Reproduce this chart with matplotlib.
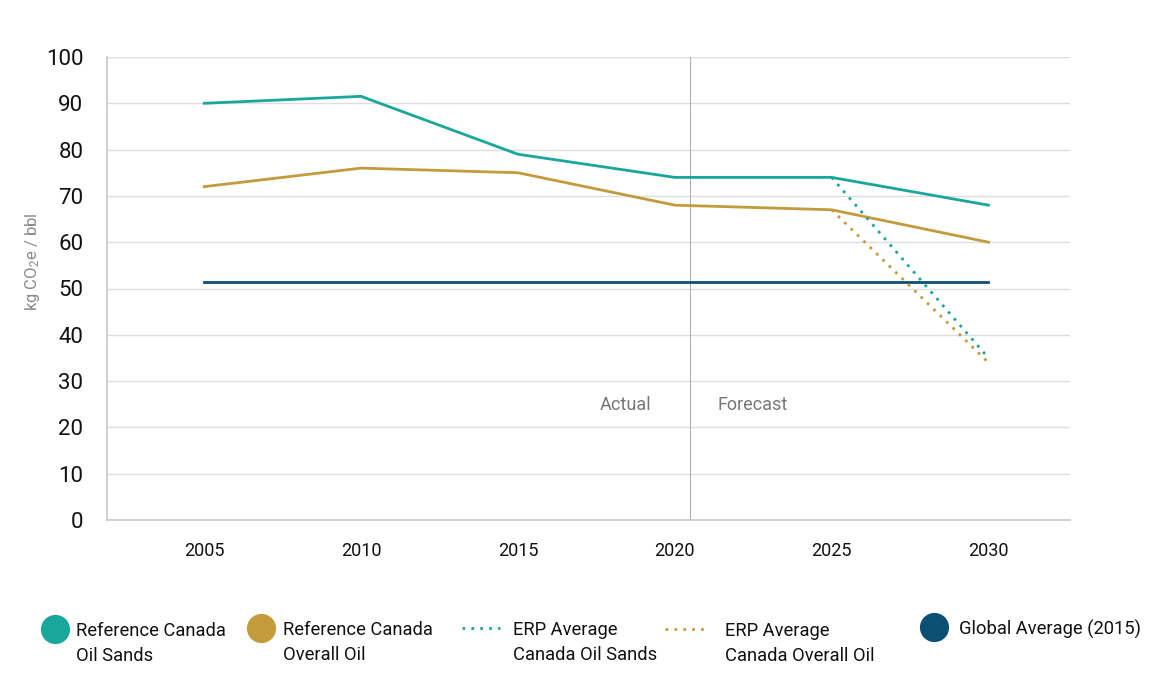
import matplotlib
matplotlib.use("Agg")
import matplotlib.pyplot as plt
from matplotlib.lines import Line2D

plt.rcParams['font.family'] = ['Roboto', 'DejaVu Sans']
plt.rcParams['mathtext.default'] = 'regular'

years = [2005, 2010, 2015, 2020, 2025, 2030]
oil_sands = [90, 91.5, 79, 74, 74, 68]
overall_oil = [72, 76, 75, 68, 67, 60]
erp_years = [2025, 2030]
erp_oil_sands = [74, 35]
erp_overall_oil = [67, 34]
global_years = [2005, 2030]
global_avg = [51.5, 51.5]
yticks = [0, 10, 20, 30, 40, 50, 60, 70, 80, 90, 100]

TEAL = '#19a79b'
GOLD = '#c49b3c'
NAVY = '#0c4f74'

fig = plt.figure(figsize=(11.6, 6.88), dpi=100)
W, H = 1160, 688
ax = fig.add_axes([107 / W, 1 - 520 / H, (1070 - 107) / W, (520 - 57) / H])

ax.plot(years, oil_sands, color=TEAL, lw=2, zorder=4)
ax.plot(years, overall_oil, color=GOLD, lw=2, zorder=4)
ax.plot(global_years, global_avg, color=NAVY, lw=2, zorder=3)
ax.plot(erp_years, erp_oil_sands, color=TEAL, lw=2, ls=(0, (1, 2.2)), zorder=5)
ax.plot(erp_years, erp_overall_oil, color=GOLD, lw=2, ls=(0, (1, 2.2)), zorder=5)

ax.axvline(2020.5, color='#b0b0b0', lw=0.8, zorder=2)
ax.text(2018.42, 24.8, 'Actual', ha='center', va='center', fontsize=13, color='#777777')
ax.text(2022.5, 24.8, 'Forecast', ha='center', va='center', fontsize=13, color='#777777')

ax.set_xlim(2001.9, 2032.6)
ax.set_ylim(0, 100)
ax.set_yticks(yticks)
ax.set_xticks(years)
ax.set_xticklabels([str(y) for y in years])
ax.tick_params(axis='y', length=0, pad=17, labelsize=16, labelcolor='#111111')
ax.tick_params(axis='x', length=0, pad=16, labelsize=13, labelcolor='#111111')
ax.grid(axis='y', color='#dedede', lw=1)
ax.set_axisbelow(True)
for s in ['top', 'right']:
    ax.spines[s].set_visible(False)
for s in ['left', 'bottom']:
    ax.spines[s].set_color('#c8c8c8')
    ax.spines[s].set_linewidth(1.2)

fig.text(32 / W, 1 - 262 / H, 'kg CO$_2$e / bbl', rotation=90, ha='center', va='center',
         fontsize=12, color='#8a8a8a')

def fx(x):
    return x / W

def fy(y):
    return 1 - y / H

legend_items = [
    ('circle', TEAL, 55, 629, 76, 'Reference Canada\nOil Sands'),
    ('circle', GOLD, 261, 628, 283, 'Reference Canada\nOverall Oil'),
    ('dots', TEAL, (462, 500), 628, 513, 'ERP Average\nCanada Oil Sands'),
    ('dots', GOLD, (665, 707), 629, 725, 'ERP Average\nCanada Overall Oil'),
    ('circle', NAVY, 934, 627, 959, 'Global Average (2015)'),
]
for kind, col, hx, hy, tx, label in legend_items:
    if kind == 'circle':
        fig.add_artist(Line2D([fx(hx)], [fy(hy)], marker='o', markersize=21, color=col,
                              markeredgewidth=0, transform=fig.transFigure))
    else:
        fig.add_artist(Line2D([fx(hx[0]), fx(hx[1])], [fy(hy), fy(hy)], color=col, lw=2,
                              ls=(0, (1, 2.2)), transform=fig.transFigure))
    fig.text(fx(tx), fy(hy - 7), label, ha='left', va='top', fontsize=13.2,
             color='#111111', linespacing=1.5)

fig.savefig('out.png', dpi=100)
